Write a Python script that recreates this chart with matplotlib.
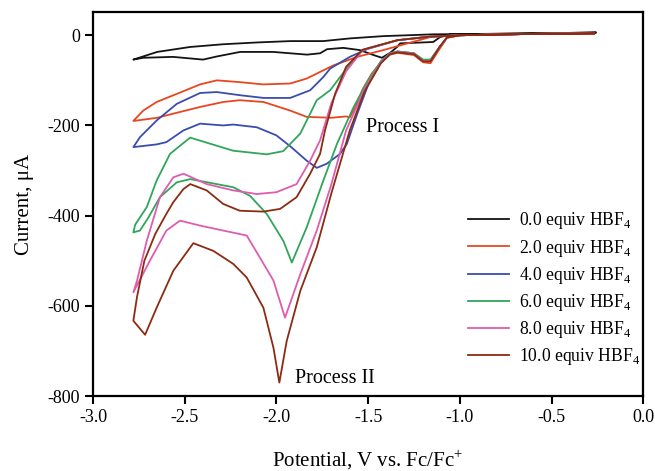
import matplotlib.pyplot as plt

plt.rcParams['font.family'] = ['Liberation Serif', 'DejaVu Serif']
plt.rcParams['axes.unicode_minus'] = False
plt.rcParams['mathtext.fontset'] = 'custom'
plt.rcParams['mathtext.rm'] = 'Liberation Serif'

# each scan: start at -0.27 V, go cathodic to -2.78 V, come back
v_0 = [-0.26, -0.6, -1.05, -1.107, -1.145, -1.325, -1.342, -1.38, -1.425, -1.47, -1.544, -1.636,
       -1.724, -1.762, -1.833, -2.018, -2.198, -2.324, -2.40, -2.564, -2.727, -2.78,
       -2.65, -2.47, -2.29, -2.105, -1.925, -1.745, -1.598, -1.418, -1.145, -0.6, -0.26]
i_0 = [6, 4, 2, -4, -15, -18, -26, -39, -50, -44, -33, -28,
       -31, -40, -43, -37, -37, -47, -54, -48, -50, -54,
       -37, -26, -20, -16, -13, -13, -7, -2, 2, 4, 6]

v_2 = [-0.27, -0.6, -1.0, -1.07, -1.11, -1.16, -1.2, -1.25, -1.34, -1.38, -1.43, -1.48, -1.53,
       -1.57, -1.6, -1.62, -1.7, -1.835, -1.925, -2.07, -2.2, -2.29, -2.416, -2.564, -2.65, -2.76, -2.78,
       -2.726, -2.653, -2.543, -2.416, -2.325, -2.198, -2.073, -1.925, -1.835, -1.745, -1.69,
       -1.56, -1.418, -1.16, -1.0, -0.6, -0.27]
i_2 = [4, 3, 0, -6, -30, -62, -60, -44, -39, -43, -60, -85, -120,
       -160, -182, -180, -183, -181, -167, -148, -144, -148, -159, -174, -183, -189, -190,
       -167, -148, -130, -109, -100, -104, -109, -107, -96, -78, -67,
       -48, -33, -4, 0, 3, 4]

v_4 = [-0.27, -0.6, -1.0, -1.07, -1.11, -1.16, -1.2, -1.25, -1.34, -1.38, -1.43, -1.5, -1.56, -1.616,
       -1.653, -1.726, -1.78, -1.835, -1.925, -2.0, -2.107, -2.236, -2.29, -2.416, -2.507, -2.6, -2.653,
       -2.78, -2.744, -2.653, -2.543, -2.416, -2.325, -2.198, -2.07, -1.925, -1.816, -1.745, -1.707,
       -1.6, -1.5, -1.34, -1.16, -1.0, -0.6, -0.27]
i_4 = [4, 3, 0, -5, -26, -55, -55, -40, -36, -40, -58, -110, -175, -241,
       -263, -285, -294, -278, -246, -222, -204, -198, -200, -196, -211, -237, -242,
       -248, -226, -189, -152, -128, -126, -133, -139, -139, -122, -93, -74,
       -48, -30, -11, -3, 0, 3, 4]

v_6 = [-0.27, -0.6, -1.0, -1.07, -1.11, -1.16, -1.2, -1.25, -1.34, -1.38, -1.43, -1.5, -1.58, -1.67,
       -1.744, -1.835, -1.916, -1.962, -2.053, -2.144, -2.235, -2.325, -2.47, -2.543, -2.635, -2.698,
       -2.744, -2.78, -2.77, -2.707, -2.653, -2.58, -2.489, -2.47, -2.236, -2.053, -1.963, -1.87, -1.816,
       -1.78, -1.707, -1.62, -1.53, -1.34, -1.16, -1.0, -0.6, -0.27]
i_6 = [4, 3, 0, -5, -26, -54, -54, -40, -36, -40, -58, -100, -160, -241,
       -322, -426, -504, -456, -396, -356, -337, -330, -319, -326, -359, -404,
       -433, -437, -420, -381, -322, -263, -233, -227, -256, -264, -257, -218, -174,
       -144, -122, -75, -33, -11, -3, 0, 3, 4]

v_8 = [-0.27, -0.6, -1.0, -1.07, -1.11, -1.16, -1.2, -1.25, -1.34, -1.38, -1.43, -1.52, -1.62,
       -1.7, -1.78, -1.87, -1.953, -2.016, -2.09, -2.162, -2.29, -2.416, -2.526, -2.6, -2.69, -2.78,
       -2.76, -2.707, -2.635, -2.562, -2.507, -2.38, -2.235, -2.107, -2.0, -1.89, -1.816, -1.762,
       -1.7, -1.62, -1.53, -1.34, -1.16, -1.0, -0.6, -0.27]
i_8 = [4, 3, 0, -5, -26, -57, -57, -41, -37, -41, -60, -120, -211,
       -330, -433, -530, -626, -544, -493, -444, -433, -422, -411, -433, -500, -570,
       -544, -456, -359, -315, -307, -330, -344, -352, -348, -330, -278, -233,
       -150, -80, -33, -11, -3, 0, 3, 4]

v_10 = [-0.27, -0.6, -1.0, -1.07, -1.11, -1.16, -1.2, -1.25, -1.34, -1.38, -1.43, -1.52, -1.6,
        -1.7, -1.78, -1.87, -1.944, -1.984, -2.016, -2.071, -2.162, -2.235, -2.344, -2.453, -2.562,
        -2.653, -2.716, -2.78, -2.76, -2.72, -2.66, -2.6, -2.562, -2.507, -2.47, -2.38, -2.29, -2.2,
        -2.071, -1.98, -1.89, -1.816, -1.762, -1.735, -1.68, -1.62, -1.53, -1.34, -1.16, -1.0, -0.6, -0.27]
i_10 = [4, 3, 0, -5, -26, -58, -58, -42, -38, -42, -62, -125, -211,
        -350, -470, -567, -678, -770, -693, -604, -537, -507, -478, -461, -522,
        -604, -664, -633, -580, -500, -440, -396, -370, -341, -330, -344, -374, -389,
        -391, -385, -359, -307, -263, -211, -130, -70, -32, -11, -3, 0, 3, 4]

labels = ['0.0 equiv HBF$_4$', '2.0 equiv HBF$_4$', '4.0 equiv HBF$_4$',
          '6.0 equiv HBF$_4$', '8.0 equiv HBF$_4$', '10.0 equiv HBF$_4$']
colors = ['#141414', '#e8461f', '#3a4cae', '#2fa65c', '#df5cae', '#8c2b12']

fig = plt.figure(figsize=(6.55, 4.71), dpi=100)
ax = fig.add_axes([0.142, 0.159, 0.840, 0.816])

scans = [(v_0, i_0), (v_2, i_2), (v_4, i_4), (v_6, i_6), (v_8, i_8), (v_10, i_10)]
for (v, i), lab, c in zip(scans, labels, colors):
    ax.plot(v, i, color=c, lw=1.3, label=lab)

ax.set_xlim(-3.0, 0.0)
ax.set_ylim(-800, 52)
ax.set_xticks([-3.0, -2.5, -2.0, -1.5, -1.0, -0.5, 0.0])
ax.set_xticklabels(['%.1f' % t for t in [-3.0, -2.5, -2.0, -1.5, -1.0, -0.5, 0.0]])
ax.set_yticks([0, -200, -400, -600, -800])
ax.tick_params(direction='out', length=6, width=1.5, labelsize=13)
for s in ax.spines.values():
    s.set_linewidth(1.6)

ax.set_xlabel('Potential, V vs. Fc/Fc$^{+}$', fontsize=15)
ax.set_ylabel('Current, \u03bcA', fontsize=15)
ax.xaxis.set_label_coords(0.5, -0.135)
ax.yaxis.set_label_coords(-0.108, 0.5)

ax.text(-1.31, -204, 'Process I', fontsize=14.5, ha='center', va='center')
ax.text(-1.68, -762, 'Process II', fontsize=14.5, ha='center', va='center')

ax.legend(loc='lower right', bbox_to_anchor=(0.995, 0.075), frameon=False, fontsize=12.7,
          handlelength=2.3, handletextpad=0.6, labelspacing=0.35, borderaxespad=0, borderpad=0)

fig.savefig('out.png', dpi=100)
